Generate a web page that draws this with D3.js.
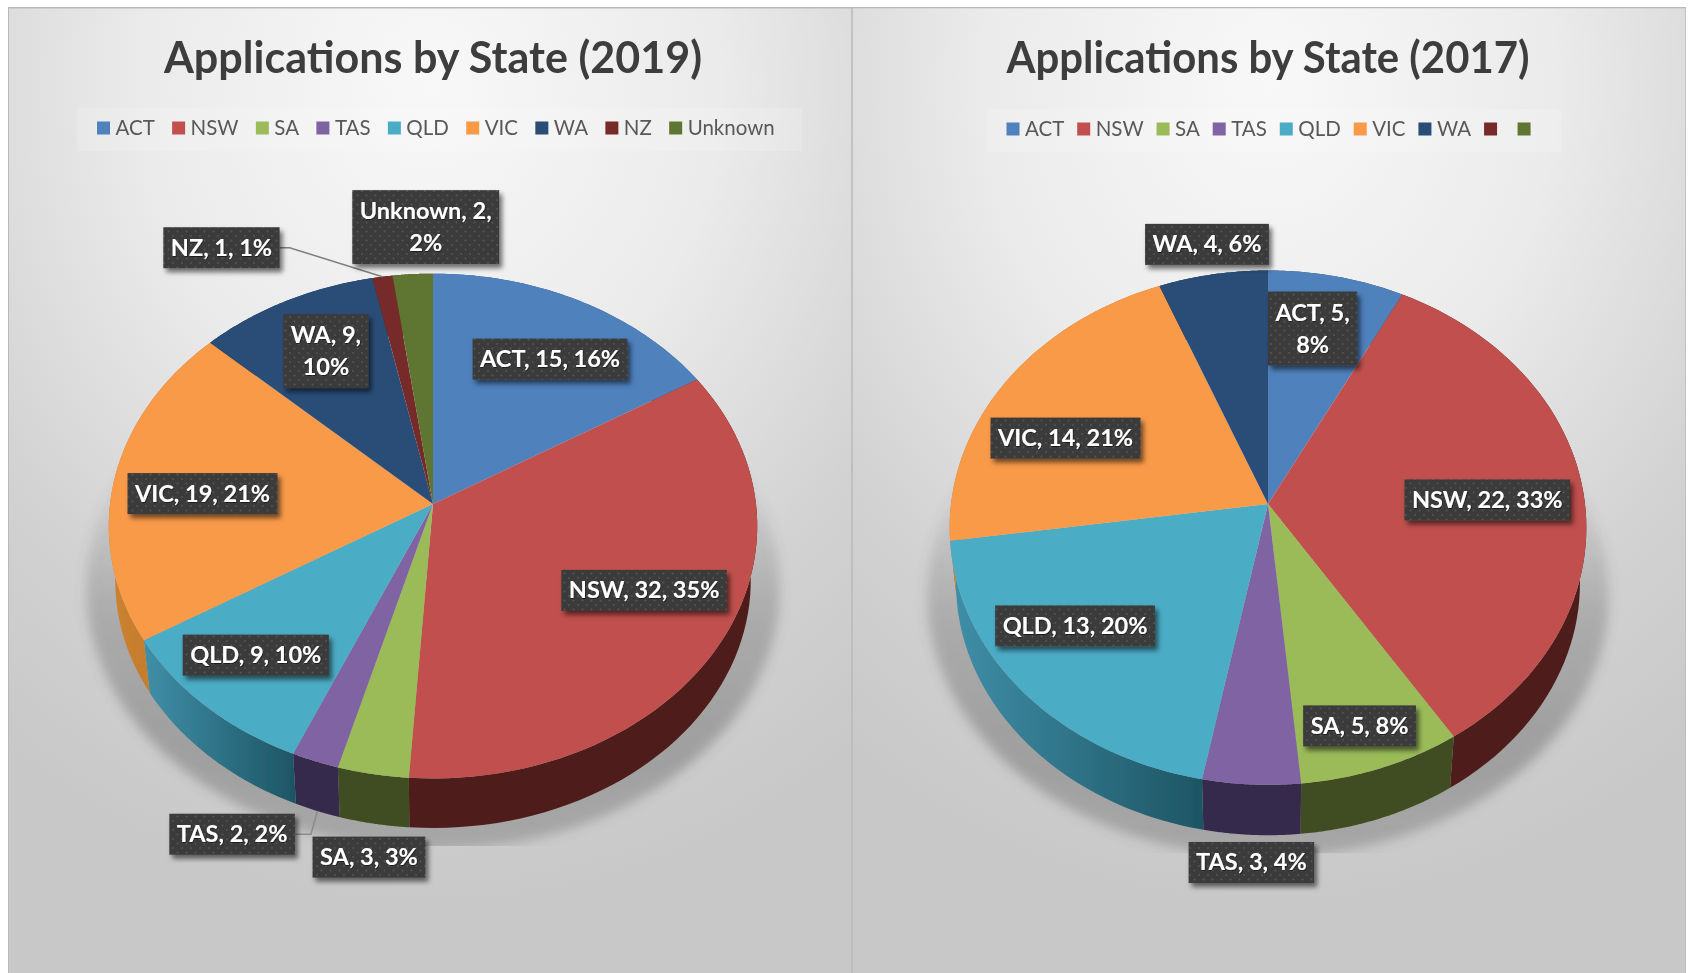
<!DOCTYPE html>
<html><head><meta charset="utf-8">
<style>html,body{margin:0;padding:0;background:#fff}svg{display:block}text{font-family:Lato,"Open Sans",sans-serif}</style>
<script src="https://cdnjs.cloudflare.com/ajax/libs/d3/7.8.5/d3.min.js"></script>
</head><body><svg id="c" width="1688" height="973"></svg>
<script>
const categories = ["ACT","NSW","SA","TAS","QLD","VIC","WA","NZ","Unknown"];
const values2019 = [15,32,3,2,9,19,9,1,2];
const percents2019 = [16,35,3,2,10,21,10,1,2];
const values2017 = [5,22,5,3,13,14,4,0,0];
const percents2017 = [8,33,8,4,20,21,6,0,0];
const legendNames2019 = categories;
const legendNames2017 = ["ACT","NSW","SA","TAS","QLD","VIC","WA","",""];
const topColors = ["#4f81bd","#c0504d","#9bbb59","#8064a2","#4bacc6","#f99a4a","#2a4d78","#772c2a","#5f7530"];
const sideFrom = ["#2d4a6e","#4f1f1b","#404d20","#352a4c","#3f8fa8","#cc8330","#16304f","#4a1b1a","#3a481d"];
const sideTo   = ["#2d4a6e","#4f1f1b","#404d20","#352a4c","#1e5564","#b8722a","#16304f","#4a1b1a","#3a481d"];

// label placement: pixel nudge from the slice's rim point, and whether the label wraps
const labelNudge2019 = [[-30,58,0],[-78,-50,0],[-4,83,0],[-83,73,0],[50,-51,0],[88,15,0],[40,50,1],[-161,-29,0],[13,-47,1]];
const labelNudge2017 = [[-24,52,1],[-96,8,0],[-22,-42,0],[0,78,0],[52,-66,0],[60,56,0],[-6,-30,0],[0,0,0],[0,0,0]];

const panels = [
 {title:"Applications by State (2019)",values:values2019,pct:percents2019,names:legendNames2019,nudge:labelNudge2019,
  x0:8,x1:852,cx:433,cy:504,A:250.5,B:323,k:0.0874,drop:55,titleW:538,legX:97,legY:128,legGap:17.3,leaders:{NZ:"top",TAS:"bottom"}},
 {title:"Applications by State (2017)",values:values2017,pct:percents2017,names:legendNames2017,nudge:labelNudge2017,
  x0:852,x1:1686,cx:1268,cy:504,A:255,B:317,k:0.092,drop:56,titleW:523,legX:1006.5,legY:129,legGap:12.9,leaders:{}}
];
const svg = d3.select("#c");
const defs = svg.append("defs");

const bg = defs.append("radialGradient").attr("id","bg").attr("cx","50%").attr("cy","8%").attr("r","85%");
[[0,"#f8f8f8"],[0.4,"#ebebeb"],[0.75,"#d2d2d2"],[1,"#c8c8c8"]].forEach(s=>bg.append("stop").attr("offset",s[0]).attr("stop-color",s[1]));
const soft = defs.append("filter").attr("id","soft").attr("x","-10%").attr("y","-10%").attr("width","120%").attr("height","120%");
soft.append("feGaussianBlur").attr("stdDeviation",6);
const all = defs.append("filter").attr("id","all").attr("x","0").attr("y","0").attr("width","100%").attr("height","100%");
all.append("feGaussianBlur").attr("stdDeviation",0.45);
const boxShadow = defs.append("filter").attr("id","boxS").attr("x","-15%").attr("y","-20%").attr("width","135%").attr("height","150%");
boxShadow.append("feDropShadow").attr("dx",3).attr("dy",4).attr("stdDeviation",2.5).attr("flood-color","#000").attr("flood-opacity",0.55);
const txtShadow = defs.append("filter").attr("id","txtS").attr("x","-5%").attr("y","-10%").attr("width","110%").attr("height","125%");
txtShadow.append("feDropShadow").attr("dx",0.6).attr("dy",0.8).attr("stdDeviation",0.6).attr("flood-color","#000").attr("flood-opacity",0.6);
const dots = defs.append("pattern").attr("id","dots").attr("width",9).attr("height",9).attr("patternUnits","userSpaceOnUse");
dots.append("rect").attr("width",9).attr("height",9).attr("fill","#3b3b3b");
dots.append("circle").attr("cx",2).attr("cy",2).attr("r",0.9).attr("fill","#565656");
dots.append("circle").attr("cx",6.5).attr("cy",6.5).attr("r",0.9).attr("fill","#565656");
const shGrad = defs.append("linearGradient").attr("id","shGrad").attr("x1",0).attr("y1",0).attr("x2",0).attr("y2",1);
[[0,0],[0.3,0.05],[0.55,0.3],[0.8,0.38],[1,0.3]].forEach(s=>shGrad.append("stop").attr("offset",s[0]).attr("stop-color","#555").attr("stop-opacity",s[1]));

categories.forEach((c,i)=>{
  const g = defs.append("linearGradient").attr("id","side"+i).attr("x1",0).attr("y1",0).attr("x2",1).attr("y2",0);
  g.append("stop").attr("offset",0).attr("stop-color",sideFrom[i]);
  g.append("stop").attr("offset",1).attr("stop-color",sideTo[i]);
});

const root = svg.append("g").attr("filter","url(#all)");
const line = d3.line();

panels.forEach((p,pi)=>{
  const g = root.append("g");
  g.append("rect").attr("x",p.x0).attr("y",7).attr("width",p.x1-p.x0).attr("height",966).attr("fill","url(#bg)");
  g.append("path").attr("d",`M${p.x0},973V7.5H${p.x1}`+(pi===1?"V973":"")).attr("fill","none").attr("stroke","#b9b9b9").attr("stroke-width",pi===0?2:1.5);

  g.append("text").attr("x",(p.cx)).attr("y",73).attr("text-anchor","middle")
    .attr("font-size",43).attr("font-weight",700).attr("fill","#3d3d3d")
    .attr("textLength",p.titleW).attr("lengthAdjust","spacingAndGlyphs").text(p.title);

  // legend
  const band = g.append("rect").attr("fill","#fff").attr("fill-opacity",0.16);
  let lx = p.legX;
  p.names.forEach((n,i)=>{
    g.append("rect").attr("x",lx).attr("y",p.legY-6.5).attr("width",13).attr("height",13).attr("fill",topColors[i]);
    const t = g.append("text").attr("x",lx+18.5).attr("y",p.legY+7).attr("font-size",20.5).attr("fill","#595959").text(n);
    const w = n? t.node().getComputedTextLength():0;
    lx += 18.5 + w + (n?p.legGap:15);
  });
  band.attr("x",p.legX-20).attr("y",p.legY-20).attr("width",lx-p.legX+30).attr("height",43);

  // projection of a disc point onto the tilted pie
  const proj = (a,r,lower)=>{
    const x = r*Math.sin(a), y = -r*Math.cos(a), d = 1-p.k*y, s = lower?0.98:1;
    return [p.cx + s*p.B*x/d, p.cy + (lower?p.drop:0) + s*p.A*y/d];
  };
  const pie = d3.pie().sort(null)(p.values);
  const rimAngles = d => d3.range(0,61).map(t=>d.startAngle+(d.endAngle-d.startAngle)*t/60);

  // cast shadow, clipped to the chart's plot box
  const clipId="clip"+pi;
  const bot = proj(Math.PI,1,true)[1];
  defs.append("clipPath").attr("id",clipId).append("rect").attr("x",p.cx-360).attr("y",400).attr("width",720).attr("height",bot+18-400);
  g.append("g").attr("clip-path",`url(#${clipId})`).append("ellipse")
    .attr("cx",p.cx).attr("cy",bot-240).attr("rx",p.B+24).attr("ry",262)
    .attr("fill","url(#shGrad)").attr("filter","url(#soft)");

  // side walls
  g.selectAll(".side").data(pie.filter(d=>d.value>0)).join("path").attr("class","side")
    .attr("d",d=>{
      const ang = rimAngles(d);
      return line(ang.map(a=>proj(a,1,false)).concat(ang.slice().reverse().map(a=>proj(a,1,true))))+"Z";
    })
    .attr("fill",d=>`url(#side${d.index})`);
  // top faces
  g.selectAll(".top").data(pie.filter(d=>d.value>0)).join("path").attr("class","top")
    .attr("d",d=>line([[p.cx,p.cy]].concat(rimAngles(d).map(a=>proj(a,1,false))))+"Z")
    .attr("fill",d=>topColors[d.index]);

  // labels
  pie.forEach(d=>{
    if(!d.value) return;
    const i=d.index, mid=(d.startAngle+d.endAngle)/2, rim=proj(mid,1,false), nudge=p.nudge[i];
    const lx=rim[0]+nudge[0], ly=rim[1]+nudge[1], wrap=nudge[2];
    const pctTxt=p.pct[i]+"%", head=`${categories[i]}, ${d.value},`;
    const lines = wrap?[head,pctTxt]:[head+" "+pctTxt];
    const lg = g.append("g");
    const texts = lines.map((s,li)=>lg.append("text").attr("x",lx).attr("y",ly+8+(li-(lines.length-1)/2)*32)
      .attr("text-anchor","middle").attr("font-size",23.5).attr("font-weight",700).attr("fill","#fff").attr("filter","url(#txtS)").text(s));
    const w = d3.max(texts,t=>t.node().getComputedTextLength())+15;
    const h = wrap?74:41;
    // leader line
    const kind=p.leaders[categories[i]];
    if(kind){
      const end = proj(mid,1,kind==="bottom");
      const sx=lx+w/2, elbow=sx+(kind==="top"?10:16);
      g.append("path").attr("d",line([[sx,ly],[elbow,ly],end])).attr("fill","none")
        .attr("stroke",kind==="top"?"#7f7f7f":"#8c8c8c").attr("stroke-width",1.5);
    }
    lg.insert("rect","text").attr("x",lx-w/2).attr("y",ly-h/2).attr("width",w).attr("height",h)
      .attr("fill","url(#dots)").attr("filter","url(#boxS)");
    g.node().appendChild(lg.node());
  });
});
</script></body></html>
